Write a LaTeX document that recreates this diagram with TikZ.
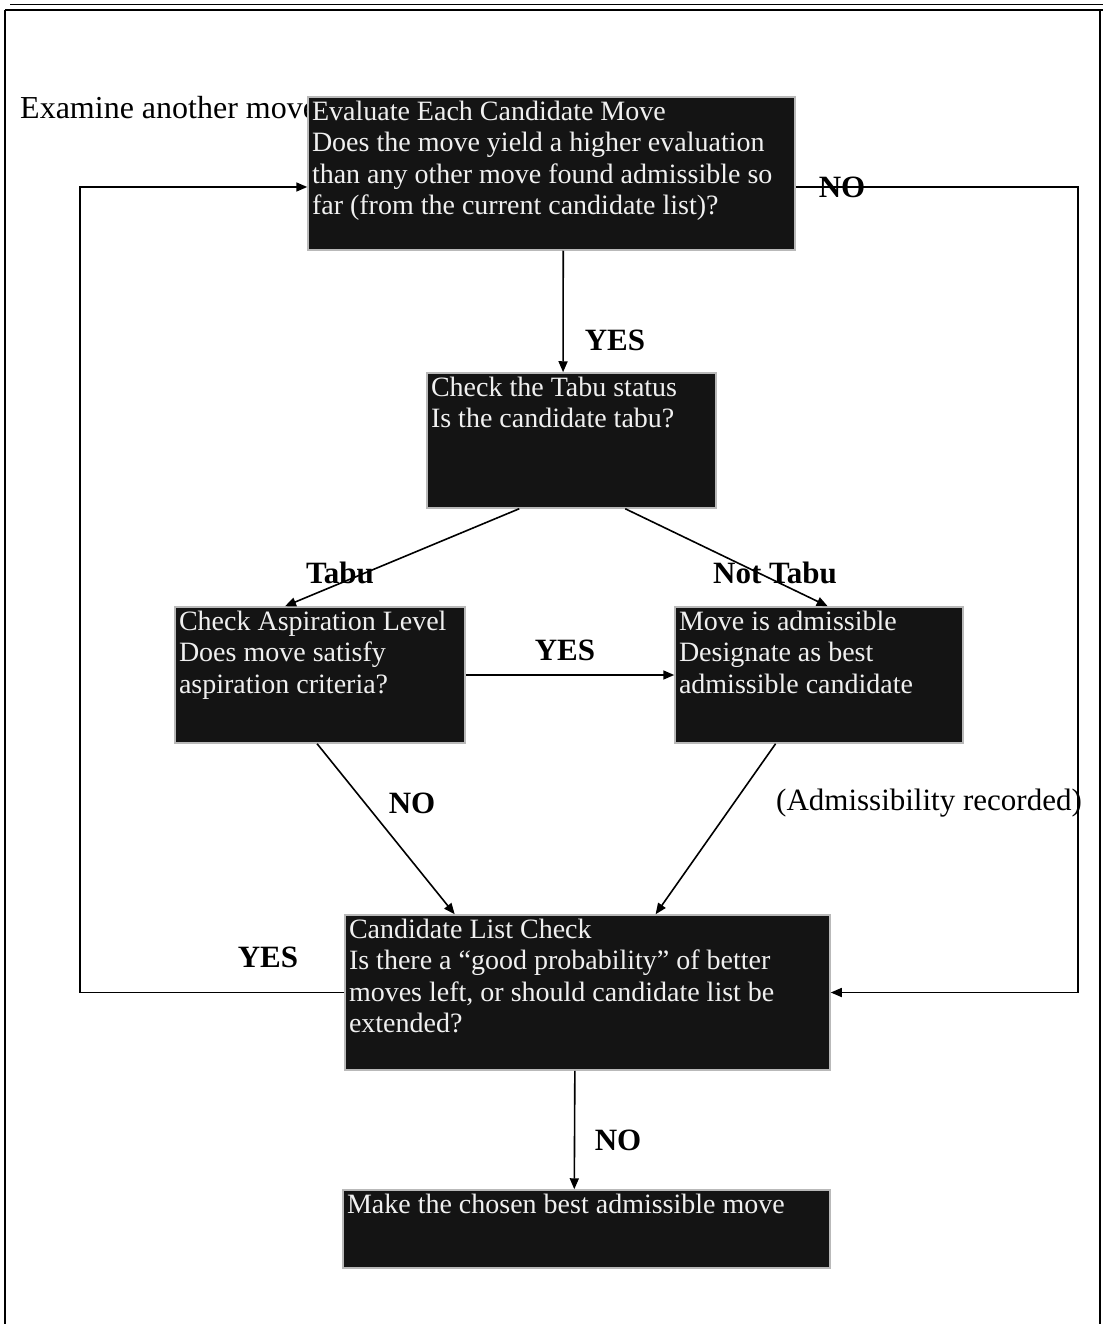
\documentclass[tikz,border=0pt]{standalone}
\usepackage{fontspec}
\setmainfont{Liberation Serif}
\usetikzlibrary{arrows.meta,calc}
\newcommand\flowtext[3]{\parbox[c][#2][t]{#1}{\raggedright #3}}
\begin{document}
\begin{tikzpicture}[x=1pt,y=-1pt,
  flowbox/.style={draw=gray!55, line width=1.5pt, fill=black!92, text=gray!12, inner sep=4pt, anchor=center, font=\fontsize{28}{31.5}\selectfont},
  conn/.style={line width=1.6pt, -{Triangle[length=11pt,width=9pt]}},
  lab/.style={font=\fontsize{31}{34}\selectfont\bfseries, inner sep=0pt},
  plainlab/.style={font=\fontsize{31}{34}\selectfont, inner sep=0pt}]
\useasboundingbox (0,0) rectangle (1103,1324);
\fill[white] (0,0) rectangle (1103,1324);
% frame
\draw[line width=1pt] (10,5) -- (1103,5);
\draw[line width=2pt] (5,10) -- (1103,10);
\draw[line width=1.5pt] (5,10) -- (5,1324);
\draw[line width=1.5pt] (1100,10) -- (1100,1324);
% side text (drawn below box 1)
\node[plainlab, anchor=west, font=\fontsize{32}{35}\selectfont] (examine) at (20,108) {Examine another move};
% boxes
\node[flowbox] (b1) at (551.5,173.5) {\flowtext{479pt}{145pt}{Evaluate Each Candidate Move\\Does the move yield a higher evaluation\\than any other move found admissible so\\far (from the current candidate list)?}};
\node[flowbox] (b2) at (571.5,440.5) {\flowtext{281pt}{127pt}{Check the Tabu status\\Is the candidate tabu?}};
\node[flowbox] (b3) at (320,675) {\flowtext{282pt}{128pt}{Check Aspiration Level\\Does move satisfy\\aspiration criteria?}};
\node[flowbox] (b4) at (819,675) {\flowtext{280pt}{128pt}{Move is admissible\\Designate as best\\admissible candidate}};
\node[flowbox] (b5) at (587.5,992.5) {\flowtext{477pt}{147pt}{Candidate List Check\\Is there a ``good probability'' of better\\moves left, or should candidate list be\\extended?}};
\node[flowbox] (b6) at (586.5,1229) {\flowtext{479pt}{70pt}{Make the chosen best admissible move}};
% connectors
\draw[conn] ($(b1.south west)!0.524!(b1.south east)$) -- ($(b2.north west)!0.471!(b2.north east)$);
\draw[conn] ($(b2.south west)!0.32!(b2.south east)$) -- ($(b3.north west)!0.38!(b3.north east)$);
\draw[conn] ($(b2.south west)!0.685!(b2.south east)$) -- ($(b4.north west)!0.53!(b4.north east)$);
\draw[conn] (b3.east) -- (b4.west);
\draw[conn] ($(b3.south west)!0.49!(b3.south east)$) -- ($(b5.north west)!0.227!(b5.north east)$);
\draw[conn] ($(b4.south west)!0.35!(b4.south east)$) -- ($(b5.north west)!0.64!(b5.north east)$);
\draw[conn] ($(b5.south west)!0.474!(b5.south east)$) -- ($(b6.north west)!0.475!(b6.north east)$);
\coordinate (l2) at (80,187);
\coordinate (r1) at (1078,187);
\draw[conn] (b5.west) -| (l2) -- (b1.west |- l2);
\draw[conn] (b1.east |- r1) -- (r1) |- (b5.east);
% labels
\node[lab] (yes1) at (615,340) {YES};
\node[lab] (tabu) at (340,573) {Tabu};
\node[lab] (nottabu) at (775,573) {Not Tabu};
\node[lab] (yes2) at (565,650) {YES};
\node[lab] (no1) at (412,803) {NO};
\node[plainlab] (adm) at (929,803) {(Admissibility recorded)};
\node[lab] (yes3) at (268,957) {YES};
\node[lab] (no2) at (842,187) {NO};
\node[lab] (no3) at (618,1140) {NO};
\end{tikzpicture}
\end{document}
